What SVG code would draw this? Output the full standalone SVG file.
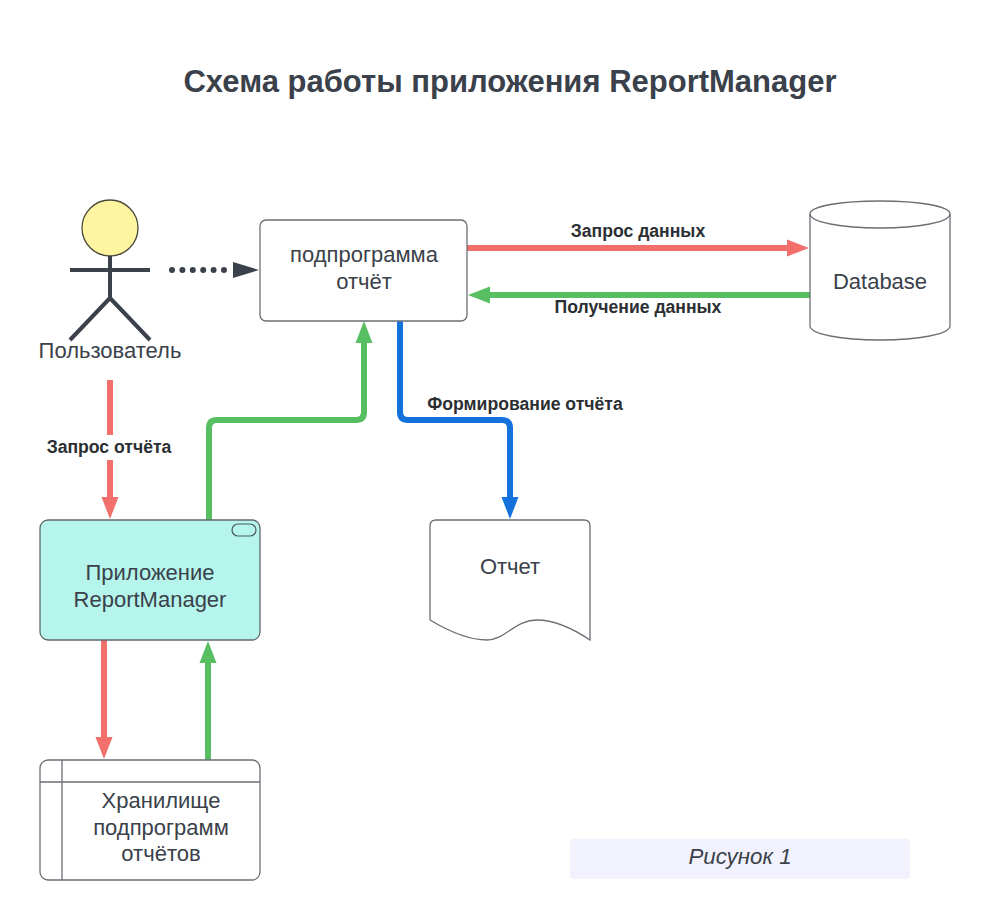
<svg xmlns="http://www.w3.org/2000/svg" width="990" height="920" viewBox="0 0 990 920">
<style>
text{font-family:"Liberation Sans",Arial,sans-serif;fill:#3a414a;text-anchor:middle}
.n{font-size:22px}
.l{font-size:17.6px;font-weight:bold;fill:#2b2f33}
.s{fill:#fff;stroke:#6b6f75;stroke-width:1.3}
.c{fill:none;stroke-width:6;stroke-linejoin:round}
.f{stroke:#3a414a;stroke-width:4;fill:none}
</style>
<defs>
<marker id="r" markerUnits="userSpaceOnUse" markerWidth="24" markerHeight="24" refX="6" refY="12" orient="auto"><path d="M0 3.5 22 12 0 20.5z" fill="#f2706c"/></marker>
<marker id="g" markerUnits="userSpaceOnUse" markerWidth="24" markerHeight="24" refX="6" refY="12" orient="auto"><path d="M0 3.5 22 12 0 20.5z" fill="#57bf62"/></marker>
<marker id="b" markerUnits="userSpaceOnUse" markerWidth="24" markerHeight="24" refX="6" refY="12" orient="auto"><path d="M0 3.5 22 12 0 20.5z" fill="#1571dc"/></marker>
<marker id="d" markerUnits="userSpaceOnUse" markerWidth="28" markerHeight="24" refX="1" refY="12" orient="auto"><path d="M0 4 26 12 0 20z" fill="#3a414a"/></marker>
</defs>
<text x="510" y="92" style="font-size:31px;font-weight:bold">Схема работы приложения ReportManager</text>
<g id="connectors">
<path class="c" d="M172 270H234" stroke="#3a414a" stroke-width="5" stroke-dasharray="0 10.4" stroke-linecap="round" marker-end="url(#d)"/>
<path class="c" d="M467 248H793" stroke="#f2706c" marker-end="url(#r)"/>
<path class="c" d="M810 295H484" stroke="#57bf62" marker-end="url(#g)"/>
<path class="c" d="M110 380V503" stroke="#f2706c" marker-end="url(#r)"/>
<path class="c" d="M209 520V428Q209 420 217 420H356Q364 420 364 412V337" stroke="#57bf62" marker-end="url(#g)"/>
<path class="c" d="M400 321V412Q400 420 408 420H502Q510 420 510 428V503" stroke="#1571dc" marker-end="url(#b)"/>
<path class="c" d="M104 640V743" stroke="#f2706c" marker-end="url(#r)"/>
<path class="c" d="M208 760V657" stroke="#57bf62" marker-end="url(#g)"/>
</g>
<g id="user">
<circle cx="110" cy="228" r="28" fill="#fff5a0" stroke="#4a4a3a" stroke-width="1.3"/>
<path class="f" d="M110 256V298M70 270H150M70 340 110 298 150 340"/>
<text class="n" x="110" y="358">Пользователь</text>
</g>
<g id="subprogram">
<rect class="s" x="260" y="220" width="207" height="101" rx="6"/>
<text class="n" x="364" y="262">подпрограмма</text>
<text class="n" x="364" y="289">отчёт</text>
</g>
<g id="database">
<path class="s" d="M810 214C810 206 841 201 880 201S950 206 950 214V326C950 334 919 340 880 340S810 334 810 326Z"/>
<path class="s" d="M810 214C810 222 841 228 880 228S950 222 950 214" style="fill:none"/>
<text class="n" x="880" y="289">Database</text>
</g>
<g id="app">
<rect x="40" y="520" width="220" height="120" rx="8" fill="#b5f5ec" stroke="#5f6b6b" stroke-width="1.3"/>
<rect x="232" y="524" width="24" height="12" rx="6" fill="none" stroke="#4a5a5a" stroke-width="1.2"/>
<text class="n" x="150" y="580">Приложение</text>
<text class="n" x="150" y="607">ReportManager</text>
</g>
<g id="report">
<path class="s" d="M430 526Q430 520 436 520H584Q590 520 590 526V640C572 628 555 620 537 620C515 620 505 640 487 640C470 640 450 632 430 620Z"/>
<text class="n" x="510" y="574">Отчет</text>
</g>
<g id="storage">
<rect class="s" x="40" y="760" width="220" height="120" rx="8"/>
<path class="s" d="M40 782H260M62 760V880"/>
<text class="n" x="161" y="808">Хранилище</text>
<text class="n" x="161" y="835">подпрограмм</text>
<text class="n" x="161" y="861">отчётов</text>
</g>
<g id="labels">
<text class="l" x="638" y="237">Запрос данных</text>
<text class="l" x="638" y="313">Получение данных</text>
<text class="l" x="525" y="410">Формирование отчёта</text>
<rect x="44" y="435" width="130" height="25" fill="#fff"/>
<text class="l" x="109" y="453">Запрос отчёта</text>
</g>
<g id="caption">
<rect x="570" y="839" width="340" height="40" rx="4" fill="#f1f2fd"/>
<text x="740" y="864" style="font-size:22.3px;font-style:italic">Рисунок 1</text>
</g>
</svg>
